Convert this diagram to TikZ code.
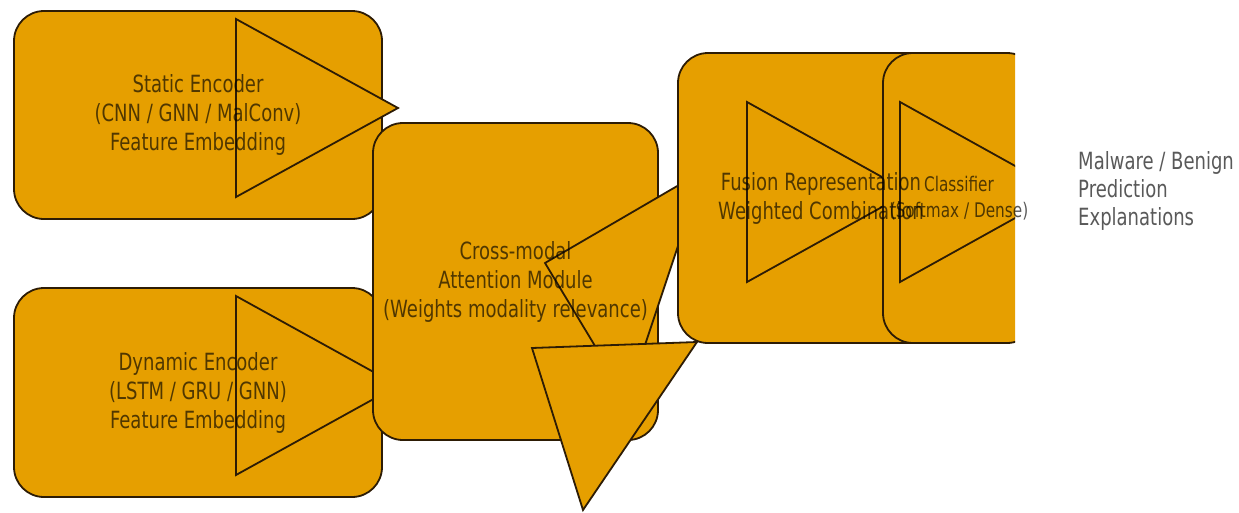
\documentclass[tikz,border=0pt]{standalone}
\usepackage{fontspec}
\newfontfamily\labfont[FakeStretch=0.76]{DejaVu Sans}
\definecolor{boxfill}{HTML}{E69F00}
\definecolor{boxedge}{RGB}{45,28,5}
\begin{document}
\begin{tikzpicture}[x=1pt,y=-1pt,
  box/.style={draw=boxedge, fill=boxfill, line width=1.8pt, rounded corners=30pt, inner sep=0pt, outer sep=0pt},
  headtri/.style={draw=boxedge, fill=boxfill, line width=1.8pt, line join=miter},
  lbl/.style={font=\labfont\fontsize{23.7}{29}\selectfont, text=black, text opacity=0.65, align=center, inner sep=0pt},
  lblsmall/.style={font=\labfont\fontsize{20.1}{26}\selectfont, text=black, text opacity=0.65, align=center, inner sep=0pt}]
\useasboundingbox (0,0) rectangle (1239,512);
% static encoder
\node[box, minimum width=368pt, minimum height=208pt] (static) at (198,115) {};
\draw[headtri] (236,19) -- (236,197) -- (398,108) -- cycle;
% dynamic encoder
\node[box, minimum width=368pt, minimum height=209pt] (dynamic) at (198,392.5) {};
\draw[headtri] (236,296) -- (236,475) -- (398,385.5) -- cycle;
% attention
\node[box, minimum width=285pt, minimum height=317pt] (attn) at (515.5,281.5) {};
\draw[headtri] (545,263) -- (703,171) -- (627,399) -- cycle;
% fusion
\node[box, minimum width=286pt, minimum height=290pt] (fusion) at (821,198) {};
\draw[headtri] (747,102) -- (747,282) -- (909,192) -- cycle;
% classifier (clipped)
\begin{scope}
\clip (0,0) rectangle (1015,512);
\node[box, minimum width=154pt, minimum height=290pt] (clf) at (960,198) {};
\draw[headtri] (900,102) -- (900,282) -- (1062,192) -- cycle;
\end{scope}
\draw[headtri] (532,348) -- (697,342) -- (583,510) -- cycle;
% texts
\node[lbl] (tstatic) at (static.center) {Static Encoder\\(CNN / GNN / MalConv)\\Feature Embedding};
\node[lbl] (tdynamic) at (dynamic.center) {Dynamic Encoder\\(LSTM / GRU / GNN)\\Feature Embedding};
\node[lbl] (tattn) at (attn.center) {Cross-modal\\Attention Module\\(Weights modality relevance)};
\node[lbl] (tfusion) at (fusion.center) {Fusion Representation\\Weighted Combination};
\node[lblsmall] (tclf) at (959,198) {Classifier\\(Softmax / Dense)};
\node[lbl, anchor=west, align=left, font=\labfont\fontsize{23.7}{28}\selectfont] (out) at (1078,191) {Malware / Benign\\Prediction\\Explanations};
\end{tikzpicture}
\end{document}
